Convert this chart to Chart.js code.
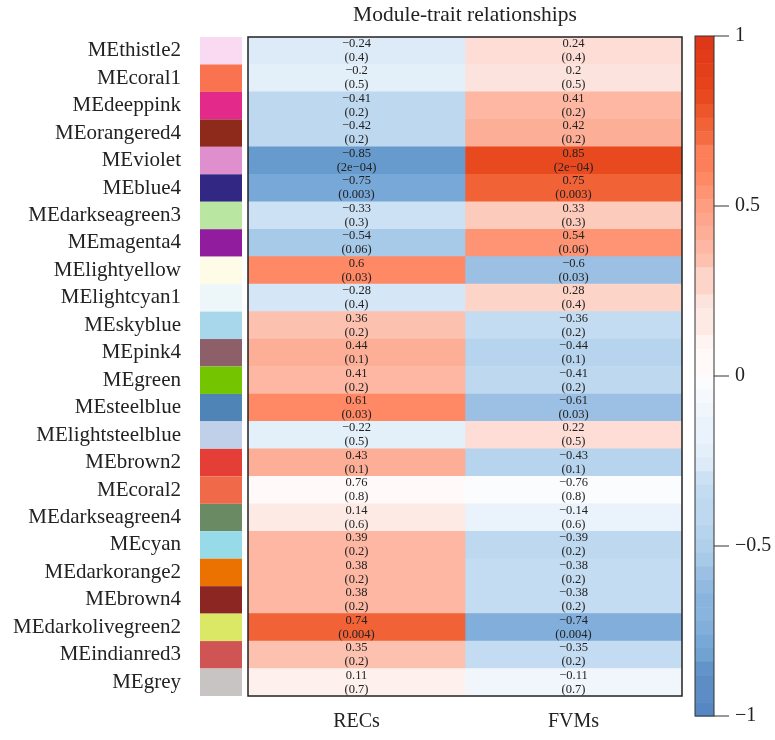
<!DOCTYPE html>
<html>
<head>
<meta charset="utf-8">
<script src="https://cdn.jsdelivr.net/npm/chart.js@4"></script>
<style>
  html, body { margin: 0; padding: 0; background: #fff; }
  #wrap { width: 775px; height: 740px; }
</style>
</head>
<body>
<div id="wrap"><canvas id="heatmap"></canvas></div>
<script>
// Module eigengenes (rows) and their swatch colours
const modules = [
  "MEthistle2", "MEcoral1", "MEdeeppink", "MEorangered4", "MEviolet", "MEblue4",
  "MEdarkseagreen3", "MEmagenta4", "MElightyellow", "MElightcyan1", "MEskyblue", "MEpink4",
  "MEgreen", "MEsteelblue", "MElightsteelblue", "MEbrown2", "MEcoral2", "MEdarkseagreen4",
  "MEcyan", "MEdarkorange2", "MEbrown4", "MEdarkolivegreen2", "MEindianred3", "MEgrey",
];
const moduleColours = [
  "#fadaf2", "#fa7350", "#e3298a", "#8e2a1c", "#df8fce", "#322883",
  "#b9e6a0", "#921c9e", "#fefbe6", "#edf7fa", "#a8d7ec", "#8d5f69",
  "#74c500", "#4e84b6", "#c1d0e9", "#e53e36", "#f06a4a", "#6a8a64",
  "#98dbe8", "#eb7200", "#8c2623", "#dae865", "#d05454", "#c8c4c4",
];

// Traits (columns)
const traits = ["RECs", "FVMs"];

// Correlations as printed in each cell
const recs = [
  -0.24, -0.2, -0.41, -0.42, -0.85, -0.75, -0.33, -0.54, 0.6, -0.28, 0.36, 0.44,
  0.41, 0.61, -0.22, 0.43, 0.76, 0.14, 0.39, 0.38, 0.38, 0.74, 0.35, 0.11,
];
const fvms = [
  0.24, 0.2, 0.41, 0.42, 0.85, 0.75, 0.33, 0.54, -0.6, 0.28, -0.36, -0.44,
  -0.41, -0.61, 0.22, -0.43, -0.76, -0.14, -0.39, -0.38, -0.38, -0.74, -0.35, -0.11,
];
// p-values (same for both traits)
const pValues = [
  "0.4", "0.5", "0.2", "0.2", "2e\u221204", "0.003", "0.3", "0.06", "0.03", "0.4", "0.2", "0.1",
  "0.2", "0.03", "0.5", "0.1", "0.8", "0.6", "0.2", "0.2", "0.2", "0.004", "0.2", "0.7",
];
// In the figure the MEcoral2 row is shaded as a near-zero correlation
// (matching its p = 0.8), not as the printed 0.76
const shadeOverride = { MEcoral2: 0.03 };

// Colour bar ticks
const barTicks = [1, 0.5, 0, -0.5, -1];

// blue-white-red palette as it looks in the figure
const redStops = [
  [0, [255, 255, 255]], [0.12, [254, 240, 236]], [0.24, [253, 221, 213]], [0.34, [253, 198, 181]],
  [0.42, [253, 178, 155]], [0.54, [254, 153, 122]], [0.6, [255, 137, 100]], [0.75, [242, 101, 57]],
  [0.85, [232, 70, 27]], [1, [222, 55, 25]],
];
const blueStops = [
  [0, [255, 255, 255]], [0.12, [240, 246, 252]], [0.24, [221, 235, 248]], [0.34, [200, 222, 242]],
  [0.42, [185, 214, 238]], [0.54, [164, 200, 232]], [0.6, [155, 192, 228]], [0.75, [122, 170, 216]],
  [0.85, [102, 153, 204]], [1, [80, 128, 190]],
];

function heatColour(v) {
  v = Math.max(-1, Math.min(1, Math.round(v * 25) / 25)); // 50 bins
  const stops = v >= 0 ? redStops : blueStops;
  const a = Math.abs(v);
  for (let k = 1; k < stops.length; k++) {
    if (a <= stops[k][0]) {
      const [a0, c0] = stops[k - 1], [a1, c1] = stops[k];
      const t = (a - a0) / (a1 - a0);
      const c = c0.map((x, j) => Math.round(x + (c1[j] - x) * t));
      return `rgb(${c[0]},${c[1]},${c[2]})`;
    }
  }
  return "rgb(222,55,25)";
}

function shade(values, i) {
  const o = shadeOverride[modules[i]];
  return o === undefined ? values[i] : Math.sign(values[i]) * o;
}

const fmt = (v) => String(v).replace("-", "\u2212");
const SERIF = "'Liberation Serif', 'DejaVu Serif', serif";
const INK = "#222";

const decor = {
  id: "decor",
  afterDatasetsDraw(chart) {
    const { ctx, chartArea: area, scales } = chart;
    const y = scales.y;
    const rowH = area.height / modules.length;
    ctx.save();

    // cell texts
    ctx.fillStyle = INK;
    ctx.textAlign = "center";
    ctx.textBaseline = "middle";
    ctx.font = `12.5px ${SERIF}`;
    chart.data.datasets.forEach((ds, d) => {
      const vals = d === 0 ? recs : fvms;
      chart.getDatasetMeta(d).data.forEach((bar, i) => {
        const cx = (bar.x + bar.base) / 2;
        ctx.fillText(fmt(vals[i]), cx, bar.y - 7);
        ctx.fillText(`(${pValues[i]})`, cx, bar.y + 7);
      });
    });

    // heatmap frame
    ctx.strokeStyle = INK;
    ctx.lineWidth = 1.5;
    ctx.strokeRect(area.left, area.top, area.width, area.height);

    // module colour swatches
    modules.forEach((m, i) => {
      const yc = y.getPixelForValue(i);
      ctx.fillStyle = moduleColours[i];
      ctx.fillRect(area.left - 48, yc - rowH / 2, 42, rowH);
    });

    // title
    ctx.fillStyle = INK;
    ctx.font = `21.5px ${SERIF}`;
    ctx.fillText("Module-trait relationships", (area.left + area.right) / 2, 15);

    // colour bar
    ctx.font = `20px ${SERIF}`;
    const bx = area.right + 13, bw = 19;
    const top = area.top - 1, bottom = area.bottom + 20;
    const n = 50, bandH = (bottom - top) / n;
    for (let k = 0; k < n; k++) {
      const v = 1 - (k + 0.5) * (2 / n);
      ctx.fillStyle = heatColour(v);
      ctx.fillRect(bx, top + k * bandH, bw, bandH + 0.5);
    }
    ctx.strokeStyle = "#333";
    ctx.lineWidth = 1;
    ctx.strokeRect(bx, top, bw, bottom - top);
    ctx.textAlign = "left";
    ctx.fillStyle = INK;
    barTicks.forEach((t) => {
      const ty = bottom - ((t + 1) / 2) * (bottom - top);
      ctx.beginPath();
      ctx.moveTo(bx + bw, ty);
      ctx.lineTo(bx + bw + 15, ty);
      ctx.stroke();
      ctx.fillText(fmt(t), bx + bw + 21, ty);
    });
    ctx.restore();
  },
};

const ctx = document.getElementById("heatmap").getContext("2d");
new Chart(ctx, {
  type: "bar",
  data: {
    labels: modules,
    datasets: [
      {
        label: traits[0],
        data: recs.map(() => 1), // each cell spans one trait column
        backgroundColor: recs.map((v, i) => heatColour(shade(recs, i))),
      },
      {
        label: traits[1],
        data: fvms.map(() => 1),
        backgroundColor: fvms.map((v, i) => heatColour(shade(fvms, i))),
      },
    ],
  },
  options: {
    indexAxis: "y",
    responsive: true,
    maintainAspectRatio: false,
    animation: false,
    barPercentage: 1,
    categoryPercentage: 1,
    borderWidth: 0,
    layout: { padding: { top: 37, right: 93, left: 0, bottom: 0 } },
    plugins: {
      legend: { display: false },
      tooltip: { enabled: false },
      title: { display: false },
    },
    scales: {
      x: {
        type: "linear",
        stacked: true,
        min: 0,
        max: 2,
        grid: { display: false, drawTicks: false },
        border: { display: false },
        afterBuildTicks: (scale) => {
          scale.ticks = traits.map((t, i) => ({ value: i + 0.5 }));
        },
        afterFit: (scale) => {
          scale.height = 44;
          scale.paddingLeft = 0;
          scale.paddingRight = 0;
        },
        ticks: {
          autoSkip: false,
          maxRotation: 0,
          padding: 14,
          color: INK,
          font: { family: SERIF, size: 20 },
          callback: (value) => traits[Math.floor(value)],
        },
      },
      y: {
        stacked: true,
        grid: { display: false, drawTicks: false },
        border: { display: false },
        afterFit: (scale) => {
          scale.width = 248;
          scale.paddingTop = 0;
          scale.paddingBottom = 0;
        },
        ticks: {
          autoSkip: false,
          padding: 67,
          color: INK,
          font: { family: SERIF, size: 21 },
        },
      },
    },
  },
  plugins: [decor],
});
</script>
</body>
</html>
